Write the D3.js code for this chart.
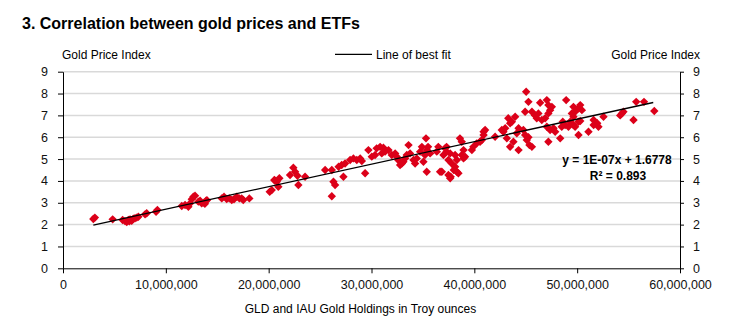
<!DOCTYPE html>
<html>
<head>
<meta charset="utf-8">
<script src="https://cdn.jsdelivr.net/npm/d3@7"></script>
<style>
body { margin: 0; background: #fff; }
svg { font-family: Arial, "Liberation Sans", sans-serif; }
</style>
</head>
<body>
<div id="chart"></div>
<script>
// GLD + IAU holdings, millions of troy ounces
var holdings = [
    2.95, 3.1, 4.83, 5.8, 6.03, 6.2, 6.35, 6.45, 6.52, 6.68, 6.84, 7.0, 7.17, 7.33, 7.98, 8.14, 9.05, 9.18,
    11.55, 11.87, 12.19, 12.35, 12.52, 12.68, 12.84, 13.16, 13.33, 13.49, 13.72, 13.8, 13.91, 14.0,
    15.44, 15.66, 15.92, 16.18, 16.41, 16.63, 16.9, 17.15, 17.38, 17.53, 18.12,
    20.1, 20.3, 20.55, 20.6, 20.79, 20.94, 21.04, 22.08, 22.4, 22.57, 22.8, 22.89, 23.54,
    25.49, 26.14, 26.3, 26.46, 26.14, 27.27, 26.8, 27.1, 27.43, 27.92, 28.24, 28.57, 28.9, 29.06, 29.38,
    29.7, 30.03, 30.35, 30.5, 30.84, 31.16, 31.0, 31.32, 31.65, 31.97, 32.3, 32.46, 32.6, 32.78, 32.95,
    33.1, 33.27, 33.6, 33.43, 33.75, 34.08, 34.24, 34.4, 34.73, 34.9, 35.05, 35.2, 35.3, 35.37, 35.5,
    35.7, 35.37, 36.35, 36.5, 36.67, 36.84, 37.0, 37.16, 37.3, 37.48,
    37.3, 37.65, 37.48, 37.8, 38.13, 38.3, 37.7, 37.65, 38.45, 38.0, 38.3, 38.13, 38.6, 38.78, 38.95,
    38.78, 38.95, 39.1, 39.76, 39.9, 40.24, 40.56, 40.73, 40.9, 41.05, 40.9,
    42.02, 42.67, 42.83, 43.0, 43.16, 43.3, 43.48, 43.65, 43.48, 43.8, 44.13, 44.3, 43.97, 44.3,
    45.04, 45.26, 44.94, 44.77, 44.94, 45.1, 45.36, 45.6, 45.26, 45.6, 45.9, 46.07, 46.23, 46.4,
    46.56, 46.89, 47.05, 47.2, 47.37, 47.54, 47.2, 47.05, 47.37, 47.7, 47.86, 47.2, 48.35, 48.5,
    48.93, 49.64, 49.8, 50.13, 50.3, 50.46, 49.48, 49.64, 49.32, 48.83, 49.15, 49.8, 49.64, 50.13,
    50.3, 50.13, 51.1, 51.6, 51.95, 52.07, 52.56, 54.18, 54.35, 54.5, 55.48, 55.74, 56.5, 57.5, 48.6, 51.6
];
var goldIndex = [
    2.26, 2.32, 2.24, 2.21, 2.16, 2.12, 2.21, 2.15, 2.24, 2.18, 2.27, 2.29, 2.32, 2.36, 2.47, 2.52, 2.59, 2.67,
    2.85, 2.9, 2.82, 2.97, 3.16, 3.28, 3.32, 3.05, 3.09, 2.97, 3.0, 2.95, 3.09, 3.12,
    3.2, 3.28, 3.17, 3.2, 3.13, 3.16, 3.28, 3.2, 3.2, 3.13, 3.2,
    3.5, 3.58, 4.04, 4.02, 3.96, 3.73, 4.12, 4.27, 4.6, 4.42, 4.24, 3.81, 4.19,
    4.5, 4.5, 3.96, 3.81, 3.3, 4.19, 4.65, 4.73, 4.8, 4.96, 5.03, 4.96, 5.03, 4.91, 4.35,
    5.41, 5.11, 5.19, 5.49, 5.56, 5.52, 5.26, 5.34, 5.41, 5.19, 5.26, 5.11, 4.96, 4.73, 4.8,
    4.88, 5.03, 5.64, 5.19, 5.26, 4.96, 4.8, 5.03, 5.34, 5.56, 4.88, 5.19, 5.95, 5.41, 5.56,
    5.26, 4.42, 5.34, 5.56, 4.42, 4.42, 5.19, 5.49, 5.34, 4.27,
    5.56, 5.26, 4.96, 4.8, 4.65, 4.42, 4.19, 4.12, 4.35, 4.5, 4.96, 5.19, 5.95, 5.79, 5.41,
    5.19, 5.03, 5.11, 5.41, 5.56, 5.72, 5.79, 5.87, 6.1, 6.33, 6.25,
    6.02, 6.33, 6.25, 6.41, 5.95, 6.87, 6.64, 6.71, 5.56, 5.79, 6.18, 5.41, 6.94, 6.41,
    8.08, 7.62, 7.17, 6.33, 6.1, 5.87, 5.64, 5.56, 6.0, 7.17, 7.0, 6.87, 7.09, 7.58,
    6.79, 6.87, 7.7, 7.47, 7.24, 7.39, 7.09, 6.48, 6.33, 6.41, 6.25, 5.79, 5.95, 6.48,
    7.7, 7.39, 7.17, 7.32, 7.47, 7.24, 7.09, 6.94, 6.71, 6.56, 6.48, 6.48, 6.56, 6.71,
    6.74, 6.1, 6.25, 6.79, 6.64, 6.48, 6.94, 7.0, 7.09, 7.17, 6.79, 7.62, 7.62, 7.2, 6.71, 6.56
];
var xTicks = [0, 10e6, 20e6, 30e6, 40e6, 50e6, 60e6];
var yTicks = [0, 1, 2, 3, 4, 5, 6, 7, 8, 9];

// trend line shown in the chart
var fitSlope = 1.03e-7;
var fitIntercept = 1.6778;
var fitRange = [2.95e6, 57.4e6];

var width = 732, height = 321;
var plotL = 63, plotR = 680, plotT = 71.7, plotB = 268.3;

var svg = d3.select("#chart").append("svg")
    .attr("width", width)
    .attr("height", height);

var x = d3.scaleLinear().domain([0, 60e6]).range([plotL, plotR]);
var y = d3.scaleLinear().domain([0, 9]).range([plotB, plotT]);

svg.append("text")
    .attr("x", 22).attr("y", 29)
    .attr("font-size", 16).attr("font-weight", "bold")
    .text("3. Correlation between gold prices and ETFs");

// gridlines
svg.append("g").selectAll("line")
    .data(yTicks.slice(1))
    .join("line")
    .attr("x1", plotL).attr("x2", plotR)
    .attr("y1", d => y(d)).attr("y2", d => y(d))
    .attr("stroke", "#d9d9d9")
    .attr("stroke-width", 1.5);

var fmt = d3.format(",");

var gx = svg.append("g")
    .attr("transform", "translate(0," + plotB + ")")
    .call(d3.axisBottom(x).tickValues(xTicks).tickFormat(fmt).tickSize(5).tickSizeOuter(0).tickPadding(6.5));
var gl = svg.append("g")
    .attr("transform", "translate(" + plotL + ",0)")
    .call(d3.axisLeft(y).tickValues(yTicks).tickSize(5).tickSizeOuter(0).tickPadding(10));
var gr = svg.append("g")
    .attr("transform", "translate(" + plotR + ",0)")
    .call(d3.axisRight(y).tickValues(yTicks).tickSize(4).tickSizeOuter(0).tickPadding(9));

[gx, gl, gr].forEach(function (g) {
    g.selectAll("text").attr("font-size", 12.5).attr("fill", "#111")
        .attr("font-family", "Arial, 'Liberation Sans', sans-serif");
    g.selectAll("line, path").attr("stroke", "#000");
});

// points
var pts = holdings.map((h, i) => ({ h: h * 1e6, v: goldIndex[i] }));
svg.append("g").selectAll("path")
    .data(pts)
    .join("path")
    .attr("transform", d => "translate(" + x(d.h) + "," + y(d.v) + ")")
    .attr("d", "M0,-4.2L4.2,0L0,4.2L-4.2,0Z")
    .attr("fill", "#dc0019");

svg.append("line")
    .attr("x1", x(fitRange[0])).attr("y1", y(fitIntercept + fitSlope * fitRange[0]))
    .attr("x2", x(fitRange[1])).attr("y2", y(fitIntercept + fitSlope * fitRange[1]))
    .attr("stroke", "#000")
    .attr("stroke-width", 1.3);

var eq = svg.append("text")
    .attr("text-anchor", "middle")
    .attr("font-size", 12).attr("font-weight", "bold");
eq.append("tspan").attr("x", 617).attr("y", 164).text("y = 1E-07x + 1.6778");
eq.append("tspan").attr("x", 618).attr("y", 179.5).text("R² = 0.893");

// labels and legend
svg.append("text").attr("x", 62).attr("y", 59).attr("font-size", 12).text("Gold Price Index");
svg.append("text").attr("x", 700).attr("y", 59).attr("font-size", 12)
    .attr("text-anchor", "end").text("Gold Price Index");
svg.append("line")
    .attr("x1", 335).attr("x2", 372).attr("y1", 54.3).attr("y2", 54.3)
    .attr("stroke", "#000").attr("stroke-width", 1.3);
svg.append("text").attr("x", 376).attr("y", 59).attr("font-size", 12).text("Line of best fit");

svg.append("text")
    .attr("x", 360.5).attr("y", 313)
    .attr("text-anchor", "middle").attr("font-size", 12)
    .text("GLD and IAU Gold Holdings in Troy ounces");
</script>
</body>
</html>
